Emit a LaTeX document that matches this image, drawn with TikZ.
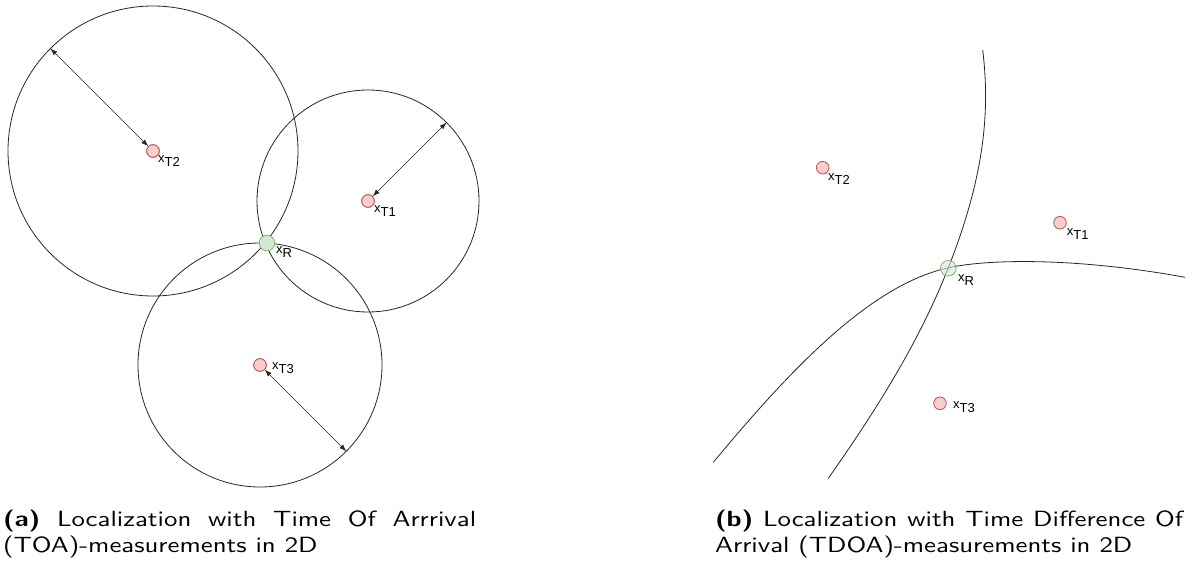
\documentclass[tikz,border=0pt]{standalone}
\usepackage{fontspec}
\newfontfamily\labfont{Liberation Sans}
\newfontfamily\capfont{lmsans10-regular.otf}[FakeStretch=1.22, BoldFont=lmsans10-bold.otf, BoldFeatures={FakeStretch=1.22}]
\usetikzlibrary{arrows.meta}
\definecolor{redfill}{HTML}{F8CECC}
\definecolor{redline}{HTML}{B85450}
\definecolor{greenfill}{HTML}{D5E8D4}
\definecolor{greenline}{HTML}{82B366}
\tikzset{
  tx/.style={circle, draw=redline, fill=redfill, minimum size=12.6pt, inner sep=0pt, line width=0.8pt},
  rx/.style={circle, draw=greenline, fill=greenfill, minimum size=15.6pt, inner sep=0pt, line width=0.8pt},
  ring/.style={draw=black!85, line width=0.8pt},
  dist/.style={draw=black!85, line width=0.6pt, {Latex[length=7pt,width=5pt]}-{Latex[length=7pt,width=5pt]}},
  lab/.style={anchor=base west, inner sep=0pt, font=\labfont\fontsize{13}{15}\selectfont},
  captext/.style={anchor=north west, inner sep=0pt, text width=473pt, align=justify, font=\capfont\fontsize{22}{26}\selectfont}
}
\newcommand{\xlab}[1]{x\raisebox{-4pt}{#1}}
\begin{document}
\begin{tikzpicture}[x=1pt,y=-1pt]
\useasboundingbox (0,0) rectangle (1194,564);
% ---------- (a) TOA ----------
\node[tx] (aT2) at (153,151) {};
\node[tx] (aT1) at (368,201) {};
\node[tx] (aT3) at (260,365) {};
\draw[ring] (aT2.center) circle[radius=145pt];
\draw[ring] (aT1.center) circle[radius=111pt];
\draw[ring] (aT3.center) circle[radius=122pt];
\node[tx] at (aT2) {};
\node[tx] at (aT1) {};
\node[tx] at (aT3) {};
\node[rx] (aR) at (267,243) {};
\coordinate (aP2) at (50.5,48.5);
\coordinate (aP1) at (446.5,122.5);
\coordinate (aP3) at (346.3,451.3);
\draw[dist] (aP2) -- (aT2);
\draw[dist] (aP1) -- (aT1);
\draw[dist] (aP3) -- (aT3);
\node[lab] (laT2) at (158,163) {\xlab{T2}};
\node[lab] (laT1) at (374,213) {\xlab{T1}};
\node[lab] (laR)  at (276,254) {\xlab{R}};
\node[lab] (laT3) at (272,369.5) {\xlab{T3}};
% ---------- (b) TDOA ----------
\coordinate (c1s) at (982.7,50);
\coordinate (c1e) at (828.3,478.3);
\coordinate (c2s) at (713.3,462.3);
\coordinate (c2e) at (1185,277.3);
\coordinate (cx) at (948.3,267.8);
\draw[ring] (c1s) .. controls (990,110) and (985,175) .. (cx) .. controls (921,337) and (882,402) .. (c1e);
\draw[ring] (c2s) .. controls (790,370) and (870,285) .. (cx) .. controls (990,258.5) and (1080,258) .. (c2e);
\node[tx] (bT2) at (822.7,167.7) {};
\node[tx] (bT1) at (1060,222.7) {};
\node[tx] (bT3) at (940,403.3) {};
\node[rx, fill opacity=0.6] (bR) at (948.3,268.3) {};
\node[lab] (lbT2) at (828,181) {\xlab{T2}};
\node[lab] (lbT1) at (1066.7,236) {\xlab{T1}};
\node[lab] (lbR)  at (958,281) {\xlab{R}};
\node[lab] (lbT3) at (953,408) {\xlab{T3}};
% ---------- captions ----------
\node[captext] (capa) at (3,510) {\textbf{(a)} Localization with Time Of Arrrival (TOA)-measurements in 2D};
\node[captext, text width=468pt] (capb) at (715,510) {\textbf{(b)} Localization with Time Difference Of Arrival (TDOA)-measurements in 2D};
\end{tikzpicture}
\end{document}
